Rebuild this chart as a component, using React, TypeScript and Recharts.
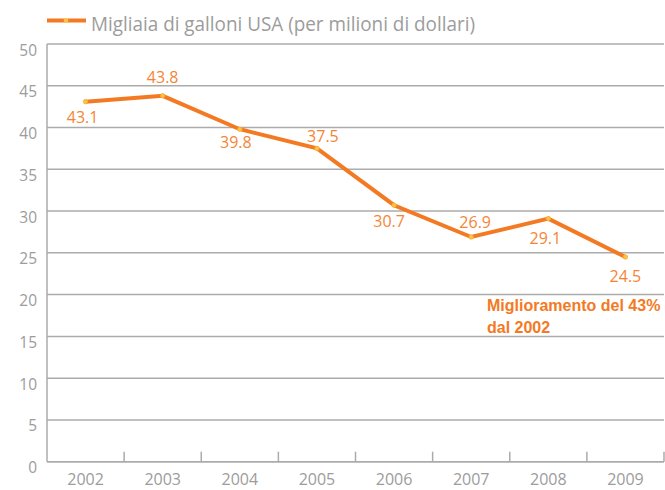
import React from 'react';
import { LineChart, Line, XAxis, YAxis, CartesianGrid, LabelList } from 'recharts';

const years = ['2002', '2003', '2004', '2005', '2006', '2007', '2008', '2009'];
const values = [43.1, 43.8, 39.8, 37.5, 30.7, 26.9, 29.1, 24.5];
const yTicks = [0, 5, 10, 15, 20, 25, 30, 35, 40, 45, 50];
const seriesName = 'Migliaia di galloni USA (per milioni di dollari)';
const noteLines = ['Miglioramento del 43%', 'dal 2002'];

// label offsets (style): dx, dy of label centre relative to point
const labelOffsets: [number, number][] = [
  [-3, 16], [0, -18], [-4, 13], [6, -12], [-5, 16.5], [4, -15], [-3, 20], [0, 19],
];

const data = years.map((year, i) => ({ x: i, year, value: values[i] }));
const xTicks: number[] = [];
for (let i = 0; i < years.length; i++) {
  xTicks.push(i);
  xTicks.push(i + 0.5);
}

const ORANGE = '#F37A23';
const LABEL_ORANGE = '#F58535';
const GRAY = '#ABABAB';
const TEXT_GRAY = '#9C9C9C';
const FONT = '"Open Sans", sans-serif';

const XTick = (props: any) => {
  const { x, y, payload } = props;
  const v = payload.value;
  if (Number.isInteger(v)) {
    return (
      <text x={x} y={y + 23.3} textAnchor="middle" fill={TEXT_GRAY} fontSize={16} fontFamily={FONT}>
        {years[v]}
      </text>
    );
  }
  return <line x1={x} x2={x} y1={y} y2={y - 10} stroke={GRAY} strokeWidth={1.5} />;
};

const YTick = (props: any) => {
  const { x, y, payload } = props;
  return (
    <text x={x} y={y + 11.5} textAnchor="end" fill={TEXT_GRAY} fontSize={15.5} fontFamily={FONT}>
      {payload.value}
    </text>
  );
};

const DataLabel = (props: any) => {
  const { x, y, value, index } = props;
  const [dx, dy] = labelOffsets[index] || [0, -15];
  return (
    <text x={x + dx} y={y + dy + 5.7} textAnchor="middle" fill={LABEL_ORANGE} fontSize={16} fontFamily={FONT}>
      {value}
    </text>
  );
};

const Dot = (props: any) => {
  const { cx, cy } = props;
  return <circle cx={cx} cy={cy} r={2.3} fill="#F9C440" stroke="#F7A530" strokeWidth={0.6} />;
};

export default function App() {
  return (
    <div style={{ position: 'relative', width: 665, height: 490, overflow: 'hidden', background: '#fff' }}>
      <style>{'body{margin:0}'}</style>
      <svg width={665} height={40} style={{ position: 'absolute', left: 0, top: 0 }}>
        <line x1={47} x2={86} y1={20.5} y2={20.5} stroke={ORANGE} strokeWidth={4} />
        <circle cx={66} cy={20.5} r={2.3} fill="#F9C440" />
        <text
          x={91}
          y={31}
          fill={TEXT_GRAY}
          fontSize={20.5}
          fontFamily={FONT}
          textLength={384}
          lengthAdjust="spacingAndGlyphs"
        >
          {seriesName}
        </text>
      </svg>
      <div
        style={{
          position: 'absolute',
          left: 487,
          top: 295,
          fontFamily: '"Liberation Sans", Arial, sans-serif',
          fontWeight: 'bold',
          fontSize: 16,
          lineHeight: '22px',
          color: ORANGE,
          whiteSpace: 'nowrap',
        }}
      >
        {noteLines.map((l) => (
          <div key={l}>{l}</div>
        ))}
      </div>
      <LineChart width={665} height={490} data={data} margin={{ top: 44, right: 1, left: 0, bottom: 0 }}>
        <CartesianGrid horizontal vertical={false} stroke={GRAY} strokeWidth={1.5} />
        <XAxis
          dataKey="x"
          type="number"
          domain={[-0.5, 7.5]}
          ticks={xTicks}
          interval={0}
          tick={<XTick />}
          tickLine={false}
          tickSize={0}
          tickMargin={0}
          height={28.3}
          axisLine={{ stroke: GRAY, strokeWidth: 1.5 }}
          allowDataOverflow
        />
        <YAxis
          type="number"
          domain={[0, 50]}
          ticks={yTicks}
          interval={0}
          width={47}
          tick={<YTick />}
          tickLine={false}
          tickSize={0}
          tickMargin={10}
          axisLine={{ stroke: GRAY, strokeWidth: 1.5 }}
        />
        <Line
          type="linear"
          dataKey="value"
          stroke={ORANGE}
          strokeWidth={4}
          dot={<Dot />}
          activeDot={false}
          isAnimationActive={false}
        >
          <LabelList dataKey="value" content={<DataLabel />} />
        </Line>
      </LineChart>
    </div>
  );
}
